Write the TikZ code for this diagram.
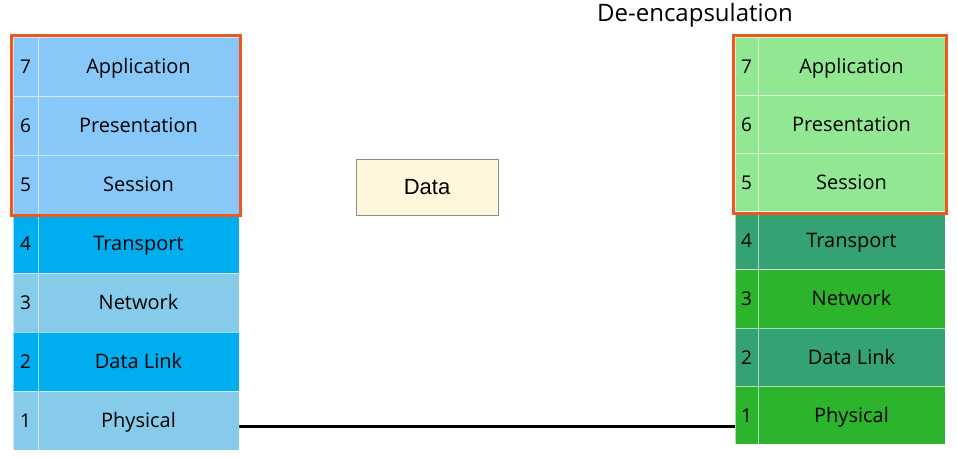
\documentclass[tikz,border=0pt]{standalone}
\usepackage{fontspec}
\usetikzlibrary{positioning,fit}
\newfontfamily\handfont{Open Sans}
\newfontfamily\boxfont{Liberation Sans}
\definecolor{leftlight}{HTML}{88C8F8}
\definecolor{leftcyan}{HTML}{00AEEF}
\definecolor{leftsky}{HTML}{87CBEA}
\definecolor{rightlight}{HTML}{92E892}
\definecolor{rightsea}{HTML}{35A273}
\definecolor{rightgreen}{HTML}{2DB42D}
\definecolor{framered}{HTML}{F0571B}
\definecolor{datafill}{HTML}{FFF7DC}
\begin{document}
\begin{tikzpicture}[
		x=1pt, y=-1pt,
		every node/.style = {
			inner sep=0pt, outer sep=0pt},
		cell/.style = {
			draw=white, draw opacity=0.6, line width=0.8pt,
			text height=16pt, text depth=2pt},
		lnum/.style = {cell, minimum width=25pt, minimum height=59pt,
			font=\handfont\fontsize{19}{22}\selectfont},
		lname/.style = {cell, minimum width=201pt, minimum height=59pt,
			font=\handfont\fontsize{20}{24}\selectfont},
		rnum/.style = {cell, minimum width=23pt, minimum height=58.2pt,
			font=\handfont\fontsize{19}{22}\selectfont},
		rname/.style = {cell, minimum width=187pt, minimum height=58.2pt,
			font=\handfont\fontsize{20}{24}\selectfont},
		frame/.style = {draw=framered, line width=3pt, inner sep=1.5pt},
		wire/.style = {draw=black, line width=3pt}]
		
		\useasboundingbox (0,0) rectangle (957,458);
		
		\node[lnum, fill=leftlight] (l7n) at (25.5,66.5) {7};
		\node[lname, fill=leftlight, right=0pt of l7n] (l7) {Application};
		\node[lnum, fill=leftlight, below=0pt of l7n] (l6n) {6};
		\node[lname, fill=leftlight, right=0pt of l6n] (l6) {Presentation};
		\node[lnum, fill=leftlight, below=0pt of l6n] (l5n) {5};
		\node[lname, fill=leftlight, right=0pt of l5n] (l5) {Session};
		\node[lnum, fill=leftcyan, below=0pt of l5n] (l4n) {4};
		\node[lname, fill=leftcyan, right=0pt of l4n] (l4) {Transport};
		\node[lnum, fill=leftsky, below=0pt of l4n] (l3n) {3};
		\node[lname, fill=leftsky, right=0pt of l3n] (l3) {Network};
		\node[lnum, fill=leftcyan, below=0pt of l3n] (l2n) {2};
		\node[lname, fill=leftcyan, right=0pt of l2n] (l2) {Data Link};
		\node[lnum, fill=leftsky, below=0pt of l2n] (l1n) {1};
		\node[lname, fill=leftsky, right=0pt of l1n] (l1) {Physical};
		\node[frame, fit=(l7n)(l5)] (lframe) {};
		
		\node[rnum, fill=rightlight] (r7n) at (746.5,66) {7};
		\node[rname, fill=rightlight, right=0pt of r7n] (r7) {Application};
		\node[rnum, fill=rightlight, below=0pt of r7n] (r6n) {6};
		\node[rname, fill=rightlight, right=0pt of r6n] (r6) {Presentation};
		\node[rnum, fill=rightlight, below=0pt of r6n] (r5n) {5};
		\node[rname, fill=rightlight, right=0pt of r5n] (r5) {Session};
		\node[rnum, fill=rightsea, below=0pt of r5n] (r4n) {4};
		\node[rname, fill=rightsea, right=0pt of r4n] (r4) {Transport};
		\node[rnum, fill=rightgreen, below=0pt of r4n] (r3n) {3};
		\node[rname, fill=rightgreen, right=0pt of r3n] (r3) {Network};
		\node[rnum, fill=rightsea, below=0pt of r3n] (r2n) {2};
		\node[rname, fill=rightsea, right=0pt of r2n] (r2) {Data Link};
		\node[rnum, fill=rightgreen, below=0pt of r2n] (r1n) {1};
		\node[rname, fill=rightgreen, right=0pt of r1n] (r1) {Physical};
		\node[frame, fit=(r7n)(r5)] (rframe) {};
		
		\node[font=\handfont\fontsize{24}{28}\selectfont] (title) at (695,15) {De-encapsulation};
		\node[draw=black!45, line width=0.8pt, fill=datafill,
			minimum width=142pt, minimum height=56pt,
			font=\boxfont\fontsize{22}{26}\selectfont] (data) at (427,187) {Data};
		
		\draw[wire] ([yshift=-6pt]l1.east) -- ([yshift=-6pt]l1.east -| r1n.west);
\end{tikzpicture}
\end{document}
